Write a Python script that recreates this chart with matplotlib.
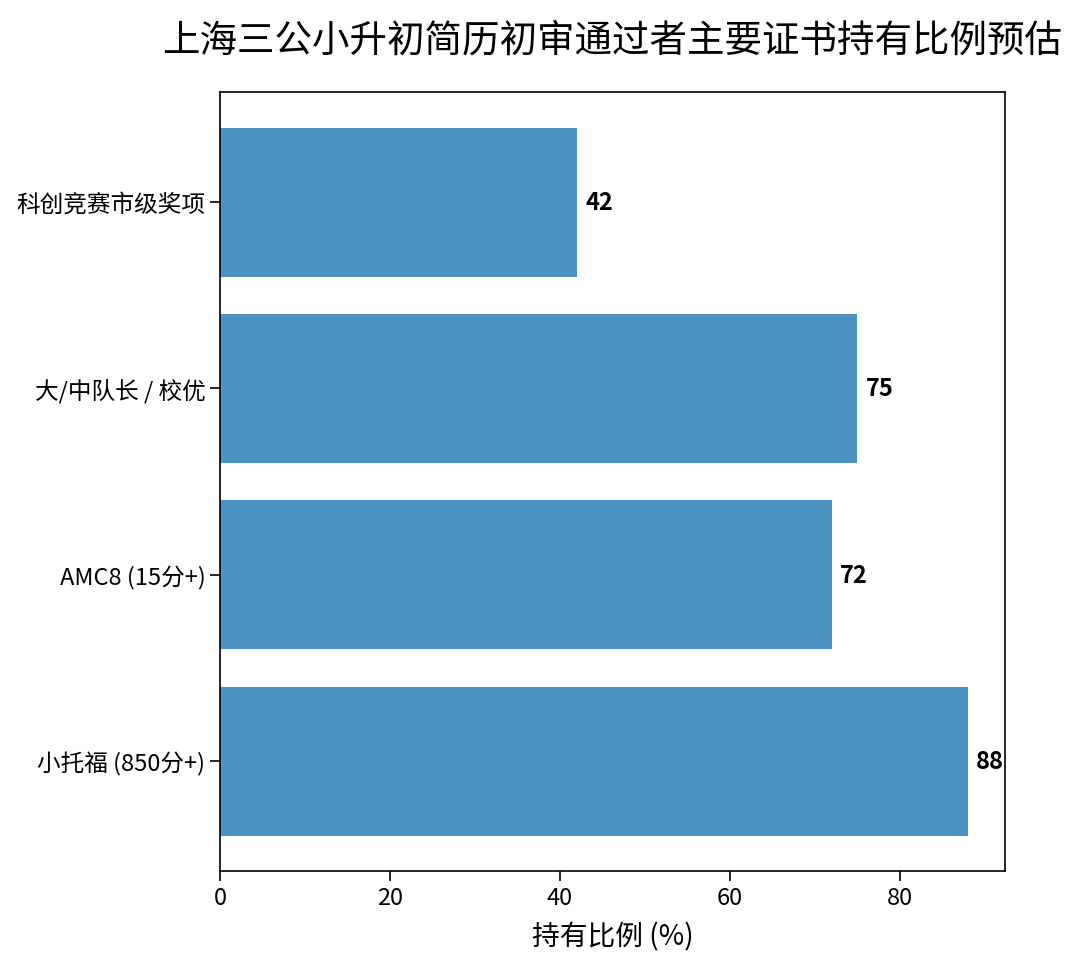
import matplotlib
matplotlib.use("Agg")
import matplotlib.pyplot as plt

plt.rcParams['font.family'] = ['Noto Sans CJK SC', 'DejaVu Sans']

# === Data ===
categories = ['小托福 (850分+)', 'AMC8 (15分+)', '大/中队长 / 校优', '科创竞赛市级奖项']
values = [88, 72, 75, 42]

title = '上海三公小升初简历初审通过者主要证书持有比例预估'
xlabel = '持有比例 (%)'

# === Plotting ===
fig, ax = plt.subplots(figsize=(10.8, 9.7), dpi=100)
fig.subplots_adjust(left=0.2037, right=0.9306, top=0.904, bottom=0.101)

bars = ax.barh(categories, values, color='#1f77b4', alpha=0.8)

for bar, v in zip(bars, values):
    ax.text(v + 1, bar.get_y() + bar.get_height() / 2, str(v),
            va='center', ha='left', fontsize=17, fontweight='bold')

ax.set_xlabel(xlabel, fontsize=20, labelpad=9)
ax.set_title(title, fontsize=27, pad=30)
ax.tick_params(axis='both', labelsize=17, length=7, width=1.2)
for s in ax.spines.values():
    s.set_linewidth(1.2)

fig.savefig('out.png', dpi=100)
